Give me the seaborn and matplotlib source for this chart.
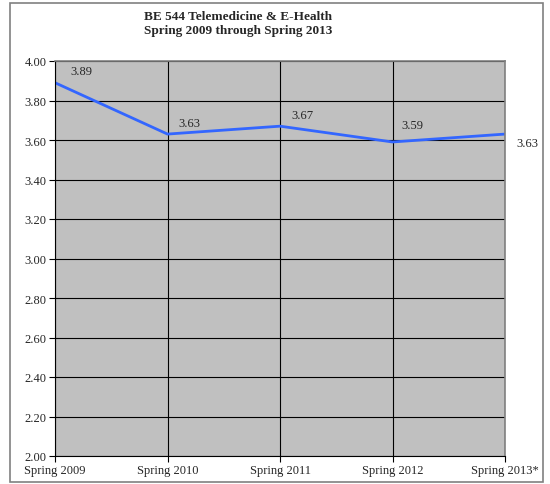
import pandas as pd
import seaborn as sns
import matplotlib.pyplot as plt
import numpy as np
from matplotlib.patches import Rectangle

terms = ['Spring 2009', 'Spring 2010', 'Spring 2011', 'Spring 2012', 'Spring 2013*']
scores = [3.89, 3.63, 3.67, 3.59, 3.63]
yticks = [2.0, 2.2, 2.4, 2.6, 2.8, 3.0, 3.2, 3.4, 3.6, 3.8, 4.0]

df = pd.DataFrame({'pos': np.arange(len(terms)), 'score': scores})

sns.set_style('white')
plt.rcParams['font.family'] = ['Liberation Serif', 'DejaVu Serif']

fig = plt.figure(figsize=(5.5, 4.85), dpi=100)
ax = fig.add_axes([55/550, 1-457/485, 450/550, 395/485])
ax.set_facecolor('#c0c0c0')

sns.lineplot(data=df, x='pos', y='score', ax=ax, color='#3366ff', linewidth=2.0)

ax.set_xlim(0, len(terms)-1)
ax.set_ylim(2.0, 4.0)
ax.set_xticks(df['pos'])
ax.set_xticklabels(terms, fontsize=9)
ax.set_yticks(yticks)
ax.set_yticklabels(['%.2f' % v for v in yticks], fontsize=9)
ax.set_xlabel('')
ax.set_ylabel('')
ax.grid(True, color='black', linewidth=0.8)
ax.set_axisbelow(True)
ax.tick_params(axis='both', direction='out', length=4, width=0.8, color='black', pad=2, left=True, bottom=True)

for s in ['left', 'bottom']:
    ax.spines[s].set_color('black')
    ax.spines[s].set_linewidth(0.8)
for s in ['top', 'right']:
    ax.spines[s].set_color('#808080')
    ax.spines[s].set_linewidth(1.2)

# data labels
offsets = [(26, 12), (22, 11), (22, 11), (20, 17), (22, -9)]
for i, v in enumerate(scores):
    ax.annotate('%.2f' % v, (i, v), xytext=offsets[i], textcoords='offset pixels',
                ha='center', va='center', fontsize=9, annotation_clip=False)

fig.text(238/550, 1-17/485, 'BE 544 Telemedicine & E-Health', ha='center', va='center',
         fontsize=9.5, fontweight='bold')
fig.text(238/550, 1-31/485, 'Spring 2009 through Spring 2013', ha='center', va='center',
         fontsize=9.5, fontweight='bold')

fig.patches.append(Rectangle((10/550, 1-483/485), 533/550, 479/485, transform=fig.transFigure,
                             fill=False, edgecolor='#808080', linewidth=1.2))

fig.savefig('out.png', dpi=100)
